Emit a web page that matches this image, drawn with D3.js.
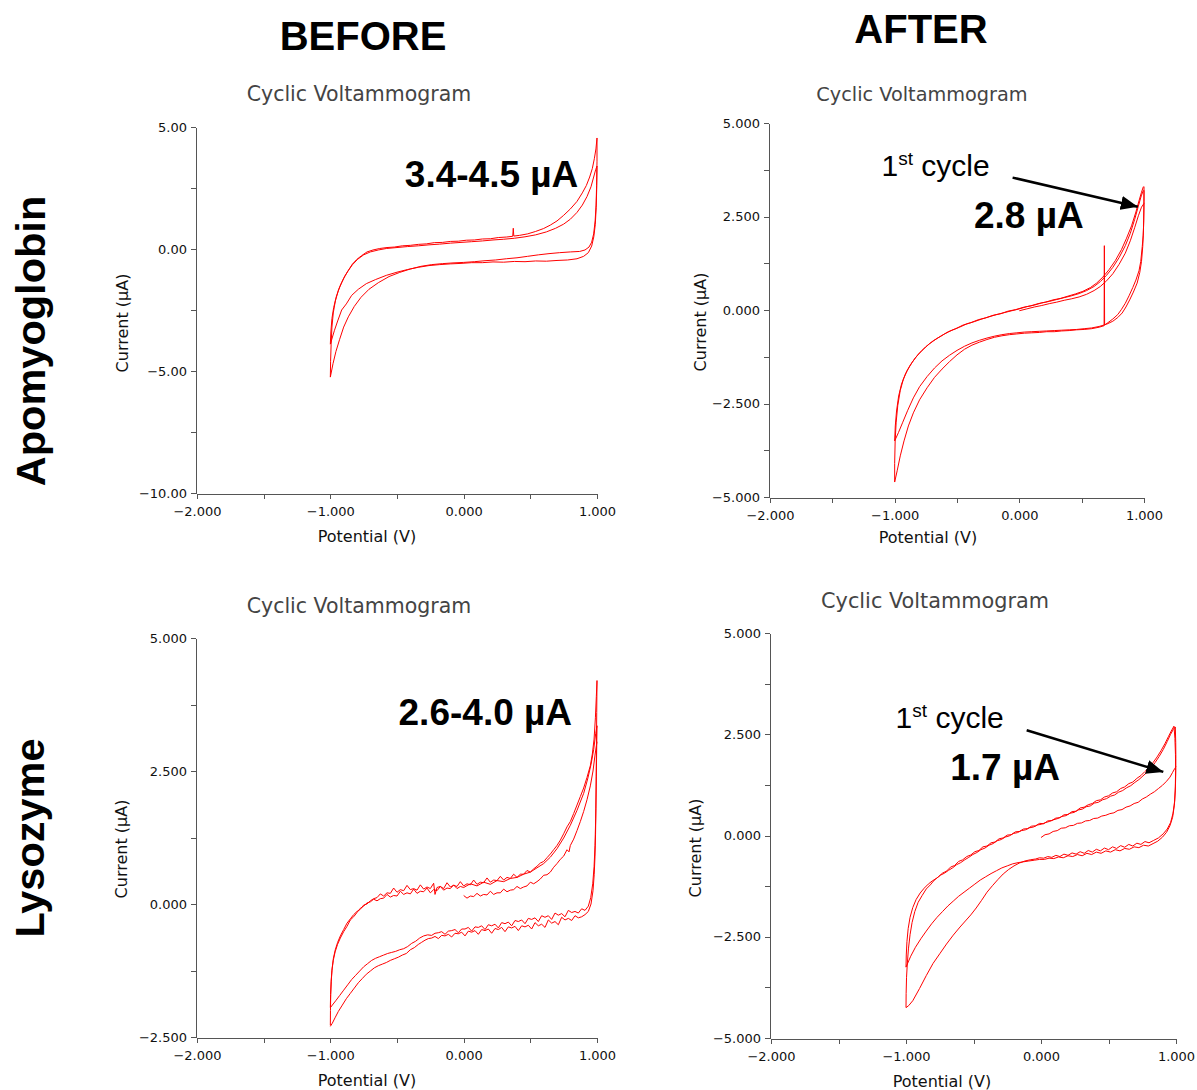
<!DOCTYPE html>
<html lang="en">
<head>
<meta charset="UTF-8" />
<title>Cyclic Voltammograms before and after</title>
<script src="https://d3js.org/d3.v7.min.js"></script>
<style>
    body { margin: 0; background: #fff; }
    .trace { fill: none; stroke: #ff0000; stroke-width: 1px; stroke-linejoin: round; }
    .axis path, .axis line { stroke: #555; shape-rendering: crispEdges; }
    .axis text { font-family: 'DejaVu Sans', sans-serif; font-size: 13px; fill: #111; }
    .title { font-family: 'DejaVu Sans', sans-serif; fill: #444; text-anchor: middle; }
    .axis-label { font-family: 'DejaVu Sans', sans-serif; font-size: 16px; fill: #111; text-anchor: middle; }
    .big { font-family: 'Liberation Sans', Arial, sans-serif; font-weight: bold; fill: #000; }
    .note { font-family: 'Liberation Sans', Arial, sans-serif; fill: #000; }
</style>
</head>
<body>
<svg width="1197" height="1090"></svg>
<script>
// ---- data: [potential (V), current (µA)] ----
const potentialTicks = [-2, -1.5, -1, -0.5, 0, 0.5, 1];
const potentialLabels = [-2, -1, 0, 1];

// Apomyoglobin, before
const apoBeforeTicks = [5, 2.5, 0, -2.5, -5, -7.5, -10];
const apoBeforeLabels = [5, 0, -5, -10];
const apoBeforeAnodic1 = [[-1.000,-5.25],[-0.998,-4.60],[-0.994,-3.90],[-0.988,-3.20],[-0.978,-2.62],[-0.962,-2.12],[-0.940,-1.70],[-0.915,-1.38],[-0.890,-1.10],[-0.865,-0.88],[-0.835,-0.62],[-0.800,-0.42],[-0.765,-0.27],[-0.725,-0.12],[-0.680,-0.04],[-0.630,0.02],[-0.575,0.06],[-0.520,0.08],[-0.460,0.13],[-0.400,0.15],[-0.340,0.19],[-0.280,0.21],[-0.220,0.26],[-0.160,0.27],[-0.100,0.31],[-0.040,0.32],[0.020,0.36],[0.080,0.37],[0.140,0.41],[0.200,0.42],[0.260,0.47],[0.320,0.49],[0.368,0.52],[0.372,0.85],[0.376,0.53],[0.420,0.56],[0.480,0.62],[0.540,0.72],[0.600,0.84],[0.650,0.98],[0.700,1.15],[0.750,1.38],[0.800,1.64],[0.850,1.95],[0.890,2.30],[0.920,2.60],[0.945,2.95],[0.965,3.30],[0.980,3.70],[0.992,4.10],[1.000,4.55]];
const apoBeforeAnodic2 = [[-1.000,-3.90],[-0.996,-3.40],[-0.988,-2.85],[-0.975,-2.40],[-0.955,-1.95],[-0.930,-1.55],[-0.900,-1.20],[-0.870,-0.92],[-0.835,-0.65],[-0.795,-0.42],[-0.750,-0.24],[-0.700,-0.12],[-0.640,-0.04],[-0.580,0.02],[-0.500,0.06],[-0.420,0.10],[-0.340,0.13],[-0.260,0.17],[-0.180,0.20],[-0.100,0.24],[-0.020,0.27],[0.060,0.30],[0.140,0.33],[0.220,0.37],[0.300,0.40],[0.380,0.44],[0.460,0.50],[0.540,0.58],[0.620,0.70],[0.690,0.85],[0.750,1.02],[0.800,1.22],[0.850,1.50],[0.890,1.80],[0.925,2.15],[0.955,2.55],[0.975,2.95],[0.990,3.25],[1.000,3.40]];
const apoBeforeCathodic1 = [[1.000,4.55],[1.000,3.60],[0.997,2.60],[0.993,1.80],[0.986,1.15],[0.975,0.62],[0.960,0.28],[0.940,0.08],[0.910,-0.04],[0.870,-0.10],[0.800,-0.12],[0.720,-0.15],[0.640,-0.19],[0.560,-0.24],[0.480,-0.30],[0.400,-0.36],[0.320,-0.40],[0.240,-0.45],[0.160,-0.48],[0.080,-0.52],[0.000,-0.55],[-0.080,-0.57],[-0.160,-0.60],[-0.240,-0.64],[-0.320,-0.71],[-0.400,-0.82],[-0.480,-0.96],[-0.560,-1.13],[-0.640,-1.38],[-0.710,-1.65],[-0.770,-1.98],[-0.820,-2.35],[-0.865,-2.78],[-0.900,-3.20],[-0.930,-3.70],[-0.958,-4.20],[-0.980,-4.70],[-1.000,-5.25]];
const apoBeforeCathodic2 = [[1.000,3.40],[0.998,2.50],[0.994,1.70],[0.987,1.00],[0.976,0.50],[0.960,0.12],[0.935,-0.15],[0.900,-0.30],[0.850,-0.40],[0.780,-0.45],[0.700,-0.47],[0.620,-0.50],[0.540,-0.49],[0.460,-0.52],[0.380,-0.51],[0.300,-0.54],[0.220,-0.53],[0.140,-0.56],[0.060,-0.56],[-0.020,-0.59],[-0.100,-0.61],[-0.180,-0.64],[-0.260,-0.68],[-0.340,-0.75],[-0.420,-0.84],[-0.500,-0.95],[-0.580,-1.08],[-0.660,-1.25],[-0.730,-1.42],[-0.790,-1.65],[-0.840,-1.90],[-0.880,-2.25],[-0.915,-2.50],[-0.945,-2.95],[-0.970,-3.35],[-1.000,-3.90]];

// Apomyoglobin, after
const apoAfterTicks = [5, 3.75, 2.5, 1.25, 0, -1.25, -2.5, -3.75, -5];
const apoAfterLabels = [5, 2.5, 0, -2.5, -5];
const apoAfterAnodic1 = [[-1.000,-4.60],[-1.000,-4.10],[-0.996,-3.50],[-0.988,-3.00],[-0.975,-2.55],[-0.955,-2.15],[-0.930,-1.85],[-0.900,-1.62],[-0.860,-1.40],[-0.810,-1.18],[-0.750,-0.98],[-0.690,-0.82],[-0.630,-0.70],[-0.570,-0.58],[-0.510,-0.50],[-0.450,-0.40],[-0.390,-0.34],[-0.330,-0.26],[-0.270,-0.21],[-0.210,-0.14],[-0.150,-0.10],[-0.090,-0.03],[-0.030,0.01],[0.030,0.07],[0.090,0.11],[0.150,0.17],[0.210,0.21],[0.270,0.27],[0.330,0.31],[0.390,0.37],[0.450,0.43],[0.510,0.50],[0.570,0.60],[0.620,0.72],[0.670,0.88],[0.720,1.08],[0.770,1.32],[0.820,1.62],[0.860,1.92],[0.900,2.25],[0.935,2.62],[0.960,2.92],[0.980,3.15],[0.995,3.30]];
const apoAfterAnodic2 = [[-1.000,-3.50],[-0.995,-3.10],[-0.985,-2.70],[-0.968,-2.30],[-0.945,-1.98],[-0.915,-1.72],[-0.880,-1.50],[-0.835,-1.28],[-0.780,-1.08],[-0.720,-0.90],[-0.660,-0.76],[-0.600,-0.64],[-0.540,-0.54],[-0.480,-0.46],[-0.420,-0.37],[-0.360,-0.31],[-0.300,-0.24],[-0.240,-0.18],[-0.180,-0.12],[-0.120,-0.07],[-0.060,-0.02],[0.000,0.03],[0.060,0.09],[0.120,0.13],[0.180,0.19],[0.240,0.23],[0.300,0.28],[0.360,0.33],[0.420,0.38],[0.480,0.44],[0.540,0.52],[0.600,0.63],[0.650,0.76],[0.700,0.93],[0.750,1.14],[0.800,1.40],[0.850,1.72],[0.890,2.05],[0.925,2.42],[0.955,2.78],[0.978,3.05],[0.995,3.20]];
const apoAfterFirst = [[0.000,-0.02],[0.060,0.03],[0.120,0.08],[0.180,0.12],[0.240,0.17],[0.300,0.21],[0.360,0.26],[0.420,0.30],[0.480,0.35],[0.540,0.42],[0.600,0.52],[0.650,0.63],[0.700,0.78],[0.750,0.97],[0.800,1.22],[0.850,1.52],[0.890,1.85],[0.925,2.20],[0.955,2.52],[0.980,2.75],[1.000,2.85]];
const apoAfterCathodic1 = [[1.000,3.30],[1.000,2.90],[0.998,2.40],[0.994,2.00],[0.986,1.70],[0.974,1.30],[0.960,1.05],[0.935,0.80],[0.910,0.60],[0.880,0.38],[0.850,0.18],[0.820,0.02],[0.790,-0.12],[0.750,-0.24],[0.710,-0.34],[0.684,-0.40],[0.682,1.72],[0.680,-0.42],[0.640,-0.46],[0.580,-0.50],[0.520,-0.52],[0.460,-0.53],[0.400,-0.55],[0.340,-0.56],[0.280,-0.58],[0.220,-0.58],[0.160,-0.60],[0.100,-0.61],[0.040,-0.62],[-0.020,-0.64],[-0.080,-0.66],[-0.140,-0.69],[-0.200,-0.73],[-0.260,-0.79],[-0.320,-0.86],[-0.380,-0.94],[-0.440,-1.05],[-0.500,-1.20],[-0.560,-1.38],[-0.620,-1.58],[-0.680,-1.80],[-0.740,-2.08],[-0.800,-2.40],[-0.850,-2.75],[-0.890,-3.10],[-0.925,-3.50],[-0.955,-3.90],[-0.980,-4.30],[-1.000,-4.60]];
const apoAfterCathodic2 = [[1.000,3.20],[0.999,2.70],[0.996,2.20],[0.990,1.70],[0.980,1.30],[0.966,1.00],[0.945,0.72],[0.915,0.48],[0.885,0.27],[0.855,0.08],[0.825,-0.08],[0.790,-0.20],[0.750,-0.30],[0.700,-0.38],[0.640,-0.44],[0.580,-0.48],[0.520,-0.50],[0.460,-0.52],[0.400,-0.53],[0.340,-0.54],[0.280,-0.55],[0.220,-0.56],[0.160,-0.57],[0.100,-0.58],[0.040,-0.59],[-0.020,-0.61],[-0.080,-0.63],[-0.140,-0.66],[-0.200,-0.70],[-0.260,-0.75],[-0.320,-0.81],[-0.380,-0.88],[-0.440,-0.97],[-0.500,-1.08],[-0.560,-1.21],[-0.620,-1.36],[-0.680,-1.55],[-0.740,-1.78],[-0.800,-2.05],[-0.850,-2.35],[-0.895,-2.68],[-0.935,-3.00],[-0.970,-3.28],[-1.000,-3.50]];

// Lysozyme, before
const lysoBeforeTicks = [5, 3.75, 2.5, 1.25, 0, -1.25, -2.5];
const lysoBeforeLabels = [5, 2.5, 0, -2.5];
const lysoBeforeAnodic1 = [[-1.000,-2.28],[-0.999,-2.00],[-0.997,-1.70],[-0.993,-1.45],[-0.987,-1.22],[-0.977,-1.02],[-0.963,-0.86],[-0.945,-0.72],[-0.925,-0.60],[-0.900,-0.48],[-0.875,-0.36],[-0.850,-0.28],[-0.825,-0.20],[-0.800,-0.14],[-0.775,-0.10],[-0.750,-0.02],[-0.725,0.00],[-0.700,0.06],[-0.675,0.10],[-0.650,0.12],[-0.625,0.19],[-0.600,0.15],[-0.575,0.21],[-0.550,0.20],[-0.525,0.30],[-0.500,0.22],[-0.475,0.27],[-0.450,0.25],[-0.425,0.35],[-0.400,0.27],[-0.375,0.29],[-0.350,0.26],[-0.325,0.36],[-0.300,0.28],[-0.275,0.32],[-0.250,0.29],[-0.225,0.39],[-0.215,0.18],[-0.200,0.31],[-0.175,0.33],[-0.150,0.29],[-0.125,0.40],[-0.100,0.32],[-0.075,0.35],[-0.050,0.33],[-0.025,0.42],[0.000,0.34],[0.025,0.38],[0.050,0.36],[0.075,0.45],[0.100,0.37],[0.125,0.41],[0.150,0.40],[0.175,0.49],[0.200,0.41],[0.225,0.45],[0.250,0.44],[0.275,0.52],[0.300,0.45],[0.325,0.50],[0.350,0.48],[0.375,0.56],[0.400,0.50],[0.425,0.56],[0.450,0.56],[0.475,0.63],[0.500,0.60],[0.525,0.66],[0.550,0.71],[0.575,0.77],[0.600,0.80],[0.625,0.87],[0.650,0.94],[0.675,1.02],[0.700,1.10],[0.725,1.20],[0.750,1.32],[0.775,1.45],[0.800,1.55],[0.825,1.70],[0.850,1.86],[0.875,2.02],[0.900,2.18],[0.925,2.38],[0.950,2.60],[0.965,2.82],[0.978,3.10],[0.988,3.50],[0.995,3.90],[1.000,4.20]];
const lysoBeforeAnodic2 = [[-1.000,-1.95],[-0.998,-1.70],[-0.994,-1.45],[-0.988,-1.25],[-0.978,-1.06],[-0.964,-0.90],[-0.946,-0.76],[-0.925,-0.64],[-0.900,-0.52],[-0.875,-0.42],[-0.850,-0.30],[-0.825,-0.24],[-0.800,-0.16],[-0.775,-0.08],[-0.750,-0.04],[-0.725,0.02],[-0.700,0.04],[-0.675,0.09],[-0.650,0.06],[-0.625,0.10],[-0.600,0.11],[-0.575,0.18],[-0.550,0.13],[-0.525,0.16],[-0.500,0.15],[-0.475,0.24],[-0.450,0.18],[-0.425,0.21],[-0.400,0.19],[-0.375,0.28],[-0.350,0.20],[-0.325,0.24],[-0.300,0.23],[-0.275,0.30],[-0.250,0.21],[-0.225,0.27],[-0.200,0.25],[-0.175,0.33],[-0.150,0.26],[-0.125,0.30],[-0.100,0.29],[-0.075,0.36],[-0.050,0.29],[-0.025,0.33],[0.000,0.31],[0.050,0.38],[0.100,0.34],[0.150,0.41],[0.200,0.37],[0.250,0.44],[0.300,0.42],[0.350,0.48],[0.400,0.50],[0.450,0.56],[0.500,0.60],[0.550,0.68],[0.600,0.76],[0.650,0.88],[0.700,1.04],[0.750,1.24],[0.800,1.48],[0.850,1.76],[0.900,2.08],[0.930,2.35],[0.955,2.62],[0.975,2.90],[0.990,3.20],[1.000,3.35]];
const lysoBeforeFirst = [[0.000,0.16],[0.025,0.11],[0.050,0.15],[0.075,0.14],[0.100,0.20],[0.125,0.15],[0.150,0.18],[0.175,0.17],[0.200,0.24],[0.225,0.18],[0.250,0.21],[0.275,0.21],[0.300,0.28],[0.325,0.23],[0.350,0.26],[0.375,0.27],[0.400,0.33],[0.425,0.29],[0.450,0.32],[0.475,0.34],[0.500,0.41],[0.525,0.38],[0.550,0.42],[0.575,0.47],[0.600,0.54],[0.625,0.55],[0.650,0.60],[0.675,0.69],[0.700,0.76],[0.725,0.84],[0.750,0.90],[0.775,1.02],[0.790,0.98],[0.800,1.10],[0.825,1.22],[0.850,1.38],[0.875,1.55],[0.900,1.74],[0.925,1.96],[0.950,2.22],[0.970,2.50],[0.985,2.80],[1.000,3.05]];
const lysoBeforeCathodic1 = [[1.000,4.20],[0.998,3.60],[0.996,3.00],[0.994,2.40],[0.992,1.80],[0.989,1.30],[0.985,0.90],[0.979,0.55],[0.970,0.25],[0.955,0.00],[0.935,-0.14],[0.910,-0.20],[0.885,-0.24],[0.860,-0.26],[0.835,-0.22],[0.810,-0.31],[0.785,-0.27],[0.760,-0.30],[0.735,-0.25],[0.710,-0.39],[0.685,-0.33],[0.660,-0.36],[0.635,-0.30],[0.610,-0.44],[0.585,-0.38],[0.560,-0.41],[0.535,-0.35],[0.510,-0.47],[0.485,-0.40],[0.460,-0.43],[0.435,-0.41],[0.410,-0.50],[0.385,-0.42],[0.360,-0.45],[0.335,-0.43],[0.310,-0.52],[0.285,-0.44],[0.260,-0.48],[0.235,-0.46],[0.210,-0.55],[0.185,-0.47],[0.160,-0.50],[0.135,-0.48],[0.110,-0.57],[0.085,-0.50],[0.060,-0.53],[0.035,-0.51],[0.010,-0.60],[-0.015,-0.53],[-0.040,-0.56],[-0.065,-0.55],[-0.090,-0.62],[-0.115,-0.57],[-0.140,-0.60],[-0.165,-0.59],[-0.190,-0.65],[-0.215,-0.61],[-0.240,-0.64],[-0.265,-0.65],[-0.290,-0.68],[-0.315,-0.72],[-0.340,-0.76],[-0.370,-0.82],[-0.400,-0.86],[-0.430,-0.93],[-0.460,-0.96],[-0.490,-1.00],[-0.520,-1.03],[-0.550,-1.06],[-0.580,-1.10],[-0.610,-1.13],[-0.640,-1.16],[-0.670,-1.20],[-0.700,-1.26],[-0.730,-1.32],[-0.760,-1.40],[-0.790,-1.48],[-0.820,-1.58],[-0.850,-1.68],[-0.880,-1.78],[-0.910,-1.90],[-0.940,-2.02],[-0.965,-2.14],[-0.985,-2.24],[-1.000,-2.30]];
const lysoBeforeCathodic2 = [[1.000,3.35],[0.997,2.80],[0.994,2.20],[0.990,1.60],[0.985,1.10],[0.978,0.70],[0.968,0.38],[0.953,0.12],[0.935,-0.04],[0.910,-0.12],[0.885,-0.09],[0.860,-0.17],[0.835,-0.14],[0.810,-0.16],[0.785,-0.12],[0.760,-0.24],[0.735,-0.18],[0.710,-0.21],[0.685,-0.17],[0.660,-0.29],[0.635,-0.22],[0.610,-0.25],[0.585,-0.22],[0.560,-0.33],[0.535,-0.26],[0.510,-0.29],[0.485,-0.27],[0.460,-0.37],[0.435,-0.30],[0.410,-0.33],[0.385,-0.31],[0.360,-0.41],[0.335,-0.34],[0.310,-0.37],[0.285,-0.35],[0.260,-0.45],[0.235,-0.38],[0.210,-0.41],[0.185,-0.39],[0.160,-0.48],[0.135,-0.41],[0.110,-0.44],[0.085,-0.43],[0.060,-0.51],[0.035,-0.44],[0.010,-0.47],[-0.015,-0.47],[-0.040,-0.54],[-0.065,-0.48],[-0.090,-0.50],[-0.115,-0.51],[-0.140,-0.57],[-0.165,-0.52],[-0.190,-0.54],[-0.215,-0.55],[-0.240,-0.59],[-0.270,-0.58],[-0.300,-0.60],[-0.330,-0.64],[-0.360,-0.70],[-0.390,-0.74],[-0.420,-0.80],[-0.450,-0.84],[-0.480,-0.86],[-0.510,-0.89],[-0.540,-0.91],[-0.570,-0.93],[-0.600,-0.96],[-0.630,-0.99],[-0.660,-1.02],[-0.690,-1.06],[-0.720,-1.12],[-0.750,-1.18],[-0.780,-1.26],[-0.810,-1.34],[-0.840,-1.42],[-0.870,-1.52],[-0.900,-1.62],[-0.930,-1.72],[-0.960,-1.82],[-0.985,-1.90],[-1.000,-1.95]];

// Lysozyme, after
const lysoAfterTicks = [5, 3.75, 2.5, 1.25, 0, -1.25, -2.5, -3.75, -5];
const lysoAfterLabels = [5, 2.5, 0, -2.5, -5];
const lysoAfterAnodic1 = [[-1.000,-4.25],[-0.999,-3.90],[-0.996,-3.50],[-0.990,-3.15],[-0.982,-2.80],[-0.970,-2.45],[-0.955,-2.15],[-0.935,-1.88],[-0.910,-1.65],[-0.880,-1.48],[-0.850,-1.32],[-0.820,-1.22],[-0.790,-1.10],[-0.760,-1.02],[-0.730,-0.93],[-0.700,-0.88],[-0.670,-0.78],[-0.640,-0.74],[-0.610,-0.64],[-0.580,-0.60],[-0.550,-0.52],[-0.520,-0.48],[-0.490,-0.40],[-0.460,-0.37],[-0.430,-0.28],[-0.400,-0.26],[-0.370,-0.18],[-0.340,-0.16],[-0.310,-0.08],[-0.280,-0.06],[-0.250,0.01],[-0.220,0.02],[-0.190,0.09],[-0.160,0.10],[-0.130,0.16],[-0.100,0.17],[-0.070,0.23],[-0.040,0.24],[-0.010,0.30],[0.020,0.29],[0.050,0.36],[0.080,0.37],[0.110,0.43],[0.140,0.44],[0.170,0.51],[0.200,0.52],[0.230,0.59],[0.260,0.60],[0.290,0.68],[0.320,0.70],[0.350,0.76],[0.380,0.79],[0.410,0.86],[0.440,0.88],[0.470,0.95],[0.500,0.98],[0.530,1.05],[0.560,1.08],[0.590,1.16],[0.620,1.20],[0.650,1.28],[0.680,1.32],[0.710,1.41],[0.740,1.48],[0.770,1.58],[0.800,1.68],[0.830,1.80],[0.860,1.94],[0.890,2.10],[0.920,2.28],[0.945,2.45],[0.965,2.58],[0.985,2.70]];
const lysoAfterAnodic2 = [[-1.000,-3.25],[-0.998,-2.95],[-0.993,-2.62],[-0.984,-2.30],[-0.970,-2.02],[-0.950,-1.78],[-0.925,-1.58],[-0.895,-1.42],[-0.865,-1.30],[-0.835,-1.20],[-0.805,-1.12],[-0.775,-1.06],[-0.745,-0.98],[-0.715,-0.93],[-0.685,-0.86],[-0.655,-0.80],[-0.625,-0.72],[-0.595,-0.67],[-0.565,-0.60],[-0.535,-0.54],[-0.505,-0.47],[-0.475,-0.42],[-0.445,-0.35],[-0.415,-0.31],[-0.385,-0.24],[-0.355,-0.20],[-0.325,-0.13],[-0.295,-0.10],[-0.265,-0.04],[-0.235,-0.01],[-0.205,0.05],[-0.175,0.07],[-0.145,0.12],[-0.115,0.14],[-0.085,0.19],[-0.055,0.21],[-0.025,0.26],[0.005,0.28],[0.035,0.32],[0.065,0.35],[0.095,0.39],[0.125,0.42],[0.155,0.47],[0.185,0.49],[0.215,0.55],[0.245,0.57],[0.275,0.63],[0.305,0.65],[0.335,0.71],[0.365,0.73],[0.395,0.80],[0.425,0.82],[0.455,0.88],[0.485,0.91],[0.515,0.97],[0.545,1.00],[0.575,1.07],[0.605,1.11],[0.635,1.18],[0.665,1.23],[0.695,1.31],[0.725,1.38],[0.755,1.47],[0.785,1.56],[0.815,1.67],[0.845,1.80],[0.875,1.95],[0.905,2.12],[0.935,2.32],[0.960,2.50],[0.980,2.62],[0.995,2.68]];
const lysoAfterFirst = [[0.000,-0.05],[0.030,0.02],[0.060,0.04],[0.090,0.10],[0.120,0.12],[0.150,0.18],[0.180,0.19],[0.210,0.24],[0.240,0.25],[0.270,0.30],[0.300,0.31],[0.330,0.36],[0.360,0.37],[0.390,0.42],[0.420,0.43],[0.450,0.48],[0.480,0.50],[0.510,0.54],[0.540,0.56],[0.570,0.62],[0.600,0.64],[0.630,0.70],[0.660,0.73],[0.690,0.79],[0.720,0.82],[0.750,0.90],[0.780,0.95],[0.810,1.02],[0.840,1.08],[0.870,1.16],[0.900,1.24],[0.930,1.34],[0.955,1.44],[0.975,1.56],[0.990,1.65],[1.000,1.70]];
const lysoAfterCathodic1 = [[0.985,2.70],[0.992,2.40],[0.996,2.00],[0.997,1.60],[0.995,1.20],[0.990,0.85],[0.978,0.55],[0.960,0.32],[0.935,0.16],[0.905,0.04],[0.870,-0.06],[0.835,-0.12],[0.800,-0.18],[0.770,-0.15],[0.740,-0.22],[0.710,-0.19],[0.680,-0.26],[0.650,-0.22],[0.620,-0.29],[0.590,-0.25],[0.560,-0.32],[0.530,-0.28],[0.500,-0.35],[0.470,-0.31],[0.440,-0.38],[0.410,-0.34],[0.380,-0.41],[0.350,-0.37],[0.320,-0.44],[0.290,-0.40],[0.260,-0.46],[0.230,-0.43],[0.200,-0.49],[0.170,-0.46],[0.140,-0.52],[0.110,-0.49],[0.080,-0.54],[0.050,-0.52],[0.020,-0.56],[-0.010,-0.55],[-0.040,-0.58],[-0.080,-0.60],[-0.120,-0.63],[-0.160,-0.68],[-0.200,-0.75],[-0.240,-0.84],[-0.280,-0.95],[-0.320,-1.09],[-0.360,-1.24],[-0.400,-1.40],[-0.440,-1.60],[-0.480,-1.79],[-0.520,-1.96],[-0.560,-2.11],[-0.600,-2.26],[-0.650,-2.46],[-0.700,-2.68],[-0.750,-2.92],[-0.800,-3.16],[-0.850,-3.46],[-0.900,-3.78],[-0.950,-4.08],[-0.980,-4.20],[-1.000,-4.25]];
const lysoAfterCathodic2 = [[0.995,2.68],[0.998,2.30],[0.999,1.90],[0.998,1.50],[0.995,1.10],[0.988,0.75],[0.975,0.45],[0.955,0.24],[0.930,0.08],[0.900,-0.04],[0.865,-0.14],[0.830,-0.20],[0.795,-0.26],[0.760,-0.24],[0.725,-0.30],[0.690,-0.28],[0.655,-0.34],[0.620,-0.32],[0.585,-0.38],[0.550,-0.35],[0.515,-0.41],[0.480,-0.38],[0.445,-0.44],[0.410,-0.41],[0.375,-0.47],[0.340,-0.44],[0.305,-0.50],[0.270,-0.47],[0.235,-0.52],[0.200,-0.50],[0.165,-0.55],[0.130,-0.53],[0.095,-0.57],[0.060,-0.56],[0.025,-0.59],[-0.010,-0.59],[-0.050,-0.61],[-0.090,-0.63],[-0.130,-0.65],[-0.170,-0.67],[-0.210,-0.70],[-0.250,-0.75],[-0.290,-0.80],[-0.330,-0.87],[-0.370,-0.94],[-0.410,-1.02],[-0.450,-1.10],[-0.490,-1.20],[-0.530,-1.30],[-0.570,-1.40],[-0.610,-1.50],[-0.650,-1.62],[-0.690,-1.74],[-0.730,-1.88],[-0.770,-2.02],[-0.810,-2.18],[-0.850,-2.36],[-0.890,-2.55],[-0.930,-2.76],[-0.965,-2.98],[-1.000,-3.25]];

// ---- drawing ----
const svg = d3.select('svg');

svg.append('defs').append('marker')
    .attr('id', 'head')
    .attr('markerUnits', 'userSpaceOnUse')
    .attr('markerWidth', 18).attr('markerHeight', 14)
    .attr('refX', 17).attr('refY', 7)
    .attr('orient', 'auto')
    .append('path').attr('d', 'M0,0 L17,7 L0,14 Z').attr('fill', '#000');

const panels = [
    { left: 197, right: 597, top: 127, bottom: 493, yDomain: [-10, 5], yTicks: apoBeforeTicks, yLabels: apoBeforeLabels, yFmt: '.2f',
      traces: [apoBeforeAnodic1, apoBeforeAnodic2, apoBeforeCathodic1, apoBeforeCathodic2],
      title: [359, 101, 20.5], xLab: [367, 542], yLab: [128, 323],
      value: { text: '3.4-4.5 µA', at: [0.86, 2.53] } },
    { left: 770, right: 1144, top: 123, bottom: 497, yDomain: [-5, 5], yTicks: apoAfterTicks, yLabels: apoAfterLabels, yFmt: '.3f',
      traces: [apoAfterAnodic1, apoAfterAnodic2, apoAfterFirst, apoAfterCathodic1, apoAfterCathodic2],
      title: [922, 101, 19.3], xLab: [928, 543], yLab: [706, 322],
      value: { text: '2.8 µA', at: [0.517, 2.19] },
      cycle: { at: [-1.105, 3.57], from: [-0.054, 3.54], to: [0.95, 2.76] } },
    { left: 197, right: 597, top: 638, bottom: 1037, yDomain: [-2.5, 5], yTicks: lysoBeforeTicks, yLabels: lysoBeforeLabels, yFmt: '.3f',
      traces: [lysoBeforeAnodic1, lysoBeforeAnodic2, lysoBeforeFirst, lysoBeforeCathodic1, lysoBeforeCathodic2],
      title: [359, 613, 20.5], xLab: [367, 1086], yLab: [127, 849],
      value: { text: '2.6-4.0 µA', at: [0.813, 3.37] } },
    { left: 771, right: 1176, top: 633, bottom: 1038, yDomain: [-5, 5], yTicks: lysoAfterTicks, yLabels: lysoAfterLabels, yFmt: '.3f',
      traces: [lysoAfterAnodic1, lysoAfterAnodic2, lysoAfterFirst, lysoAfterCathodic1, lysoAfterCathodic2],
      title: [935, 608, 20.8], xLab: [942, 1087], yLab: [701, 848],
      value: { text: '1.7 µA', at: [0.141, 1.36] },
      cycle: { at: [-1.077, 2.65], from: [-0.106, 2.6], to: [0.906, 1.57] } }
];

panels.forEach((p) => {
    const x = d3.scaleLinear().domain([-2, 1]).range([p.left, p.right]);
    const y = d3.scaleLinear().domain(p.yDomain).range([p.bottom, p.top]);
    const g = svg.append('g');

    g.append('text').attr('class', 'title')
        .attr('x', p.title[0]).attr('y', p.title[1])
        .style('font-size', p.title[2] + 'px')
        .text('Cyclic Voltammogram');

    const fx = d3.format('.3f');
    const fy = d3.format(p.yFmt);

    g.append('g').attr('class', 'axis')
        .attr('transform', `translate(0,${p.bottom + 1})`)
        .call(d3.axisBottom(x).tickValues(potentialTicks).tickSize(5).tickSizeOuter(0).tickPadding(8)
            .tickFormat((d) => (potentialLabels.includes(d) ? fx(d) : '')));

    g.append('g').attr('class', 'axis')
        .attr('transform', `translate(${p.left - 1},0)`)
        .call(d3.axisLeft(y).tickValues(p.yTicks).tickSize(5).tickSizeOuter(0).tickPadding(4)
            .tickFormat((d) => (p.yLabels.includes(d) ? fy(d) : '')));

    g.append('text').attr('class', 'axis-label')
        .attr('x', p.xLab[0]).attr('y', p.xLab[1])
        .text('Potential (V)');

    g.append('text').attr('class', 'axis-label')
        .attr('transform', `translate(${p.yLab[0]},${p.yLab[1]}) rotate(-90)`)
        .text('Current (µA)');

    const line = d3.line().x((d) => x(d[0])).y((d) => y(d[1]));
    g.selectAll('.trace').data(p.traces).enter().append('path')
        .attr('class', 'trace')
        .attr('d', line);

    g.append('text').attr('class', 'big')
        .attr('x', x(p.value.at[0])).attr('y', y(p.value.at[1]))
        .attr('text-anchor', 'end')
        .style('font-size', '37px')
        .text(p.value.text);

    if (p.cycle) {
        const t = g.append('text').attr('class', 'note')
            .attr('x', x(p.cycle.at[0])).attr('y', y(p.cycle.at[1]))
            .style('font-size', '30px');
        t.append('tspan').text('1');
        t.append('tspan').attr('dy', -11).style('font-size', '19px').text('st');
        t.append('tspan').attr('dy', 11).text(' cycle');

        g.append('line')
            .attr('x1', x(p.cycle.from[0])).attr('y1', y(p.cycle.from[1]))
            .attr('x2', x(p.cycle.to[0])).attr('y2', y(p.cycle.to[1]))
            .attr('stroke', '#000').attr('stroke-width', 2.5)
            .attr('marker-end', 'url(#head)');
    }
});

// column and row headings
svg.append('text').attr('class', 'big').attr('x', 363).attr('y', 50)
    .attr('text-anchor', 'middle').style('font-size', '40px').text('BEFORE');
svg.append('text').attr('class', 'big').attr('x', 921).attr('y', 43)
    .attr('text-anchor', 'middle').style('font-size', '40px').text('AFTER');
svg.append('text').attr('class', 'big').attr('transform', 'translate(45,341) rotate(-90)')
    .attr('text-anchor', 'middle').style('font-size', '41.5px').text('Apomyoglobin');
svg.append('text').attr('class', 'big').attr('transform', 'translate(44,838) rotate(-90)')
    .attr('text-anchor', 'middle').style('font-size', '41.5px').text('Lysozyme');
</script>
</body>
</html>
